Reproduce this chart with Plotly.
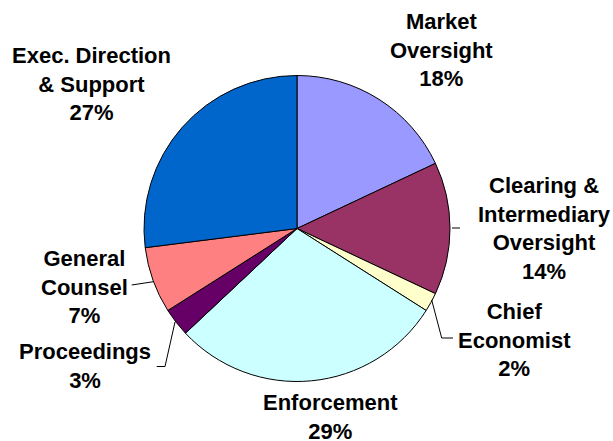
import plotly.graph_objects as go

# ---- data ----
departments = ["Market<br>Oversight", "Clearing &<br>Intermediary<br>Oversight", "Chief<br>Economist",
               "Enforcement", "Proceedings", "General<br>Counsel", "Exec. Direction<br>& Support"]
shares = [18, 14, 2, 29, 3, 7, 27]
colors = ["#9999FF", "#993366", "#FFFFCC", "#CCFFFF", "#660066", "#FF8080", "#0066CC"]

W, H = 613, 441

# label block centres (pixels, from top-left)
label_pos = [(441, 50), (544, 229), (514, 340), (330, 416.5), (84.5, 366), (84.5, 286.5), (91.5, 84)]

# leader lines (pixels)
leaders = [
    [(452, 228), (460, 228)],
    [(431.7, 300), (441.7, 338), (453, 338)],
    [(175, 322), (165, 366.5), (156.7, 366.5)],
    [(153.3, 281.7), (131.7, 285)],
]

def px(x):
    return x / W

def py(y):
    return 1 - y / H

cx, cy, r = 297, 228.5, 153

fig = go.Figure(go.Pie(
    labels=[d.replace("<br>", " ") for d in departments],
    values=shares,
    marker=dict(colors=colors, line=dict(color="black", width=1)),
    sort=False,
    direction="clockwise",
    rotation=0,
    textinfo="none",
    hoverinfo="label+percent",
    domain=dict(x=[px(cx - r), px(cx + r)], y=[py(cy + r), py(cy - r)]),
    showlegend=False,
))

annotations = []
for name, val, (x, y) in zip(departments, shares, label_pos):
    annotations.append(dict(
        x=px(x), y=py(y), xref="paper", yref="paper",
        text=f"<b>{name}<br>{val}%</b>", showarrow=False,
        xanchor="center", yanchor="middle", align="center",
        font=dict(family="Arial, Liberation Sans, sans-serif", size=22, color="black"),
    ))

shapes = []
for pts in leaders:
    path = "M " + " L ".join(f"{px(x)},{py(y)}" for x, y in pts)
    shapes.append(dict(type="path", path=path, xref="paper", yref="paper",
                       line=dict(color="black", width=1)))

fig.update_layout(
    width=W, height=H,
    margin=dict(l=0, r=0, t=0, b=0),
    paper_bgcolor="white", plot_bgcolor="white",
    annotations=annotations, shapes=shapes,
)

fig.write_html("out.html", config={"displayModeBar": False},
               post_script="document.body.style.margin='0';document.body.style.overflow='hidden';")
